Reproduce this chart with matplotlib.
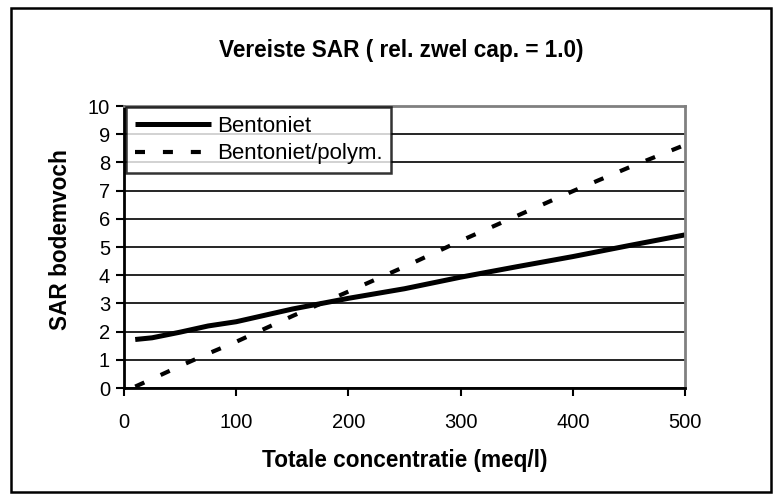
import matplotlib
matplotlib.use("Agg")
import matplotlib.pyplot as plt
from matplotlib.patches import Rectangle
from matplotlib.transforms import Bbox

plt.rcParams['font.family'] = ['Liberation Sans', 'DejaVu Sans']

title = "Vereiste SAR ( rel. zwel cap. = 1.0)"
xlabel = "Totale concentratie (meq/l)"
ylabel = "SAR bodemvocht"
series_names = ["Bentoniet", "Bentoniet/polym."]

x_vals = [10, 25, 50, 75, 100, 150, 200, 250, 300, 350, 400, 450, 500]
bentoniet = [1.72, 1.78, 1.98, 2.2, 2.35, 2.8, 3.18, 3.52, 3.93, 4.3, 4.66, 5.05, 5.43]
bent_polym = [0.05, 0.32, 0.78, 1.22, 1.64, 2.55, 3.42, 4.3, 5.22, 6.1, 6.98, 7.82, 8.62]

xticks = [0, 100, 200, 300, 400, 500]
yticks = list(range(0, 11))

W, H = 779, 500
fig = plt.figure(figsize=(W / 100, H / 100), dpi=100)
ax = fig.add_axes([124 / W, 1 - 388 / H, 561 / W, 282 / H])

ax.plot(x_vals, bentoniet, color='black', lw=3.6, solid_capstyle='butt', label=series_names[0])
ax.plot(x_vals, bent_polym, color='black', lw=3.0, dashes=(2.4, 4.3), label=series_names[1])

ax.set_xlim(0, 500)
ax.set_ylim(0, 10)
ax.set_xticks(xticks)
ax.set_yticks(yticks)
ax.tick_params(labelsize=14.5, direction='out', length=6, width=1.5, color='black', pad=4)
ax.tick_params(axis='x', pad=12)
ax.yaxis.grid(True, color='black', lw=1.2)
ax.set_axisbelow(True)
for s in ['top', 'right']:
    ax.spines[s].set_color('#808080')
    ax.spines[s].set_linewidth(2.0)
for s in ['left', 'bottom']:
    ax.spines[s].set_linewidth(2.0)

leg = ax.legend(loc='upper left', bbox_to_anchor=(0.003, 0.997), fontsize=16, frameon=True,
                fancybox=False, edgecolor='black', handlelength=3.45, borderpad=0.4,
                labelspacing=0.3, handletextpad=0.25, borderaxespad=0.0)
leg.get_frame().set_linewidth(1.8)

fig.text(401 / W, 1 - 50 / H, title, ha='center', va='center', fontsize=16.3, fontweight='bold')
fig.text(405 / W, 1 - 460 / H, xlabel, ha='center', va='center', fontsize=16.3, fontweight='bold')

yl = fig.text(72 / W, 1 - 330 / H, ylabel, rotation=90, ha='left', va='bottom',
              fontsize=16.3, fontweight='bold', rotation_mode='anchor')
yl.set_clip_box(Bbox.from_extents(0, 0, W, H - 151))
yl.set_clip_on(True)

fig.patches.append(Rectangle((11 / W, 1 - 492 / H), (771 - 11) / W, (492 - 8) / H,
                             transform=fig.transFigure, fill=False, edgecolor='black', lw=1.8))

fig.savefig('out.png', dpi=100)
